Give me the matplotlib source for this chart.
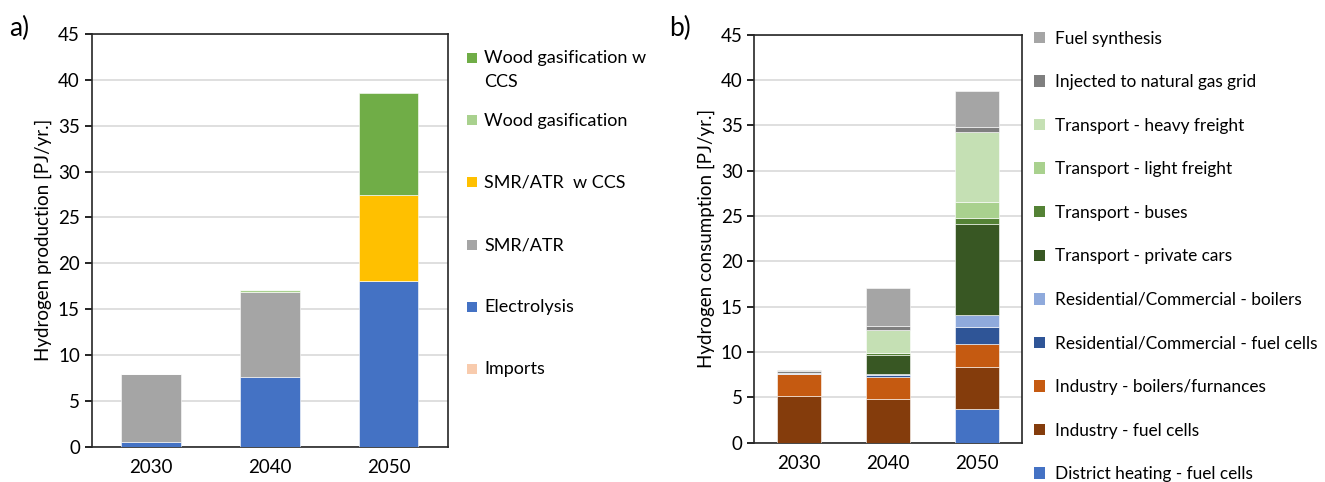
import numpy as np
import matplotlib
matplotlib.use('Agg')
from matplotlib import pyplot as plt
from matplotlib.patches import Patch, Rectangle

plt.rcParams['font.family'] = ['Lato', 'DejaVu Sans']

years = ['2030', '2040', '2050']

# a) production, bottom to top
prod_names = ['Imports', 'Electrolysis', 'SMR/ATR', 'SMR/ATR  w CCS',
              'Wood gasification', 'Wood gasification w\nCCS']
prod_colors = ['#F8CBAD', '#4472C4', '#A5A5A5', '#FFC000', '#A9D18E', '#70AD47']
imports = [0.0, 0.0, 0.0]
electrolysis = [0.55, 7.63, 18.04]
smr = [7.35, 9.27, 0.0]
smr_ccs = [0.0, 0.0, 9.36]
wood = [0.0, 0.18, 0.0]
wood_ccs = [0.0, 0.0, 11.2]
prod_vals = [imports, electrolysis, smr, smr_ccs, wood, wood_ccs]

# b) consumption, bottom to top
cons_names = ['District heating - fuel cells', 'Industry - fuel cells',
              'Industry - boilers/furnances', 'Residential/Commercial - fuel cells',
              'Residential/Commercial - boilers', 'Transport - private cars',
              'Transport - buses', 'Transport - light freight',
              'Transport - heavy freight', 'Injected to natural gas grid',
              'Fuel synthesis']
cons_colors = ['#4472C4', '#843C0C', '#C55A11', '#2F5597', '#8FAADC', '#385723',
               '#548235', '#A9D18E', '#C5E0B4', '#7F7F7F', '#A5A5A5']
district = [0.0, 0.0, 3.72]
ind_fc = [5.1, 4.85, 4.66]
ind_boil = [2.5, 2.45, 2.47]
res_fc = [0.0, 0.2, 1.95]
res_boil = [0.05, 0.1, 1.32]
cars = [0.0, 2.05, 9.95]
buses = [0.0, 0.2, 0.75]
light_fr = [0.0, 0.1, 1.7]
heavy_fr = [0.0, 2.5, 7.75]
injected = [0.3, 0.4, 0.5]
fuel_syn = [0.1, 4.2, 4.05]
cons_vals = [district, ind_fc, ind_boil, res_fc, res_boil, cars, buses,
             light_fr, heavy_fr, injected, fuel_syn]

fig = plt.figure(figsize=(13.25, 4.82), dpi=100)
ax1 = fig.add_axes([0.0692, 0.0732, 0.2689, 0.8563])
ax2 = fig.add_axes([0.5694, 0.0815, 0.2017, 0.8465])

fs = 13.5
lfs = 13


def stacked(ax, vals, colors, names):
    x = np.arange(len(years))
    bottom = np.zeros(len(years))
    handles = []
    for v, c, n in zip(vals, colors, names):
        ax.bar(x, v, 0.5, bottom=bottom, color=c, edgecolor='white',
               linewidth=0.4, zorder=3)
        bottom += np.array(v)
        handles.append(Patch(facecolor=c, label=n))
    ax.set_xticks(x)
    ax.set_xticklabels(years, fontsize=fs)
    ax.set_xlim(-0.5, 2.5)
    ax.set_ylim(0, 45)
    ax.set_yticks(range(0, 46, 5))
    ax.tick_params(axis='y', labelsize=fs, direction='out', length=5, width=1.2)
    ax.tick_params(axis='x', length=0, pad=9)
    ax.yaxis.grid(True, color='#D9D9D9', linewidth=1.2, zorder=0)
    for s in ax.spines.values():
        s.set_linewidth(1.2)
        s.set_color('#262626')
    return handles[::-1]


h1 = stacked(ax1, prod_vals, prod_colors, prod_names)
ax1.set_ylabel('Hydrogen production [PJ/yr.]', fontsize=fs)

# legend a) drawn by hand so the two-line entry keeps Excel's slot spacing
y0, step = 0.942, 0.1507
sq_w, sq_h = 10 / 356.3, 10 / 412.7
for i, (n, c) in enumerate(zip(prod_names[::-1], prod_colors[::-1])):
    y = y0 - i * step
    ax1.add_patch(Rectangle((1.053, y - sq_h / 2), sq_w, sq_h, facecolor=c,
                            transform=ax1.transAxes, clip_on=False))
    ax1.text(1.101, y + 0.018, n, transform=ax1.transAxes, fontsize=lfs,
             va='top', ha='left', linespacing=1.6)

h2 = stacked(ax2, cons_vals, cons_colors, cons_names)
ax2.set_ylabel('Hydrogen consumption [PJ/yr.]', fontsize=fs)
ax2.legend(handles=h2, loc='upper left', bbox_to_anchor=(1.02, 1.027), frameon=False,
           fontsize=12.4, handlelength=0.65, handleheight=0.65, handletextpad=0.55,
           labelspacing=1.6, borderaxespad=0.0)

fig.text(0.007, 0.925, 'a)', fontsize=19)
fig.text(0.505, 0.925, 'b)', fontsize=19)

fig.savefig('out.png', dpi=100)
